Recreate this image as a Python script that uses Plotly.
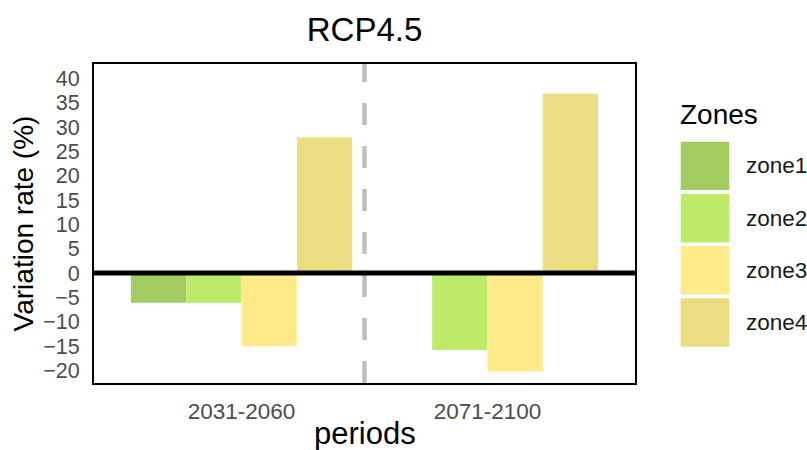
import plotly.graph_objects as go

periods = ["2031-2060", "2071-2100"]
zones = ["zone1", "zone2", "zone3", "zone4"]
zone1 = [-6.1, None]
zone2 = [-6.1, -15.8]
zone3 = [-15.0, -20.2]
zone4 = [27.9, 36.8]
colors = ["#A2CB60", "#BFEB6A", "#FFEA8A", "#ECDD83"]
y_ticks = list(range(-20, 45, 5))

W, H = 807, 450
L, R, T, B = 94, 172, 64, 67
PW, PH = W - L - R, H - T - B
FONT = "Liberation Sans, Arial, sans-serif"


def px_x(px):
    return (px - L) / PW


def px_y(py):
    return (H - B - py) / PH


fig = go.Figure()
for name, vals, col in zip(zones, [zone1, zone2, zone3, zone4], colors):
    fig.add_trace(go.Bar(x=periods, y=vals, name=name, marker=dict(color=col, line=dict(width=0)),
                         showlegend=False))

fig.update_layout(
    width=W, height=H,
    margin=dict(l=L, r=R, t=T, b=B, autoexpand=False),
    paper_bgcolor="white", plot_bgcolor="white",
    barmode="group", bargap=0.1, bargroupgap=0,
    font=dict(family=FONT),
    title=dict(text="RCP4.5", x=px_x(364.5), xref="paper", xanchor="center",
               y=1 - 29 / H, yanchor="middle", font=dict(size=33, color="black")),
)

fig.update_xaxes(range=[-0.6, 1.6], showgrid=False, zeroline=False, automargin=False,
                 showline=True, linecolor="black", linewidth=2, mirror=True,
                 ticks="", ticklabelstandoff=7,
                 tickfont=dict(size=22.5, color="#4D4D4D"))
fig.update_yaxes(range=[-22.56, 42.93], tickvals=y_ticks, showgrid=False, zeroline=False,
                 automargin=False,
                 showline=True, linecolor="black", linewidth=2, mirror=True,
                 ticks="", ticklabelstandoff=8,
                 tickfont=dict(size=21.5, color="#4D4D4D"),
                 title=dict(text="Variation rate (%)", font=dict(size=28, color="black"), standoff=1))

# x axis title
fig.add_annotation(text="periods", xref="paper", yref="paper", x=0.5, y=px_y(433.5),
                   xanchor="center", yanchor="middle", showarrow=False,
                   font=dict(size=31, color="black"))

# dashed separator between periods
fig.add_shape(type="line", xref="x", yref="paper", x0=0.5, x1=0.5, y0=0, y1=1,
              line=dict(color="#BEBEBE", width=4.5, dash="22px,21px"), layer="below")
# thick zero line
fig.add_shape(type="line", xref="paper", yref="y", x0=0, x1=1, y0=0, y1=0,
              line=dict(color="black", width=5), layer="above")

# manual legend
fig.add_annotation(text="Zones", xref="paper", yref="paper", x=px_x(678), y=px_y(115),
                   xanchor="left", yanchor="middle", showarrow=False,
                   font=dict(size=28, color="black"))
sw_top = [141.7, 194.0, 246.0, 298.3]
for name, col, top in zip(zones, colors, sw_top):
    fig.add_shape(type="rect", xref="paper", yref="paper",
                  x0=px_x(680.7), x1=px_x(729.3), y0=px_y(top), y1=px_y(top + 48.4),
                  fillcolor=col, line=dict(width=0))
    fig.add_annotation(text=name, xref="paper", yref="paper", x=px_x(744), y=px_y(top + 24.2),
                       xanchor="left", yanchor="middle", showarrow=False,
                       font=dict(size=22.5, color="#1A1A1A"))

fig.write_html("out.html", config={"displayModeBar": False},
               post_script="document.body.style.margin='0';document.body.style.padding='0';")
